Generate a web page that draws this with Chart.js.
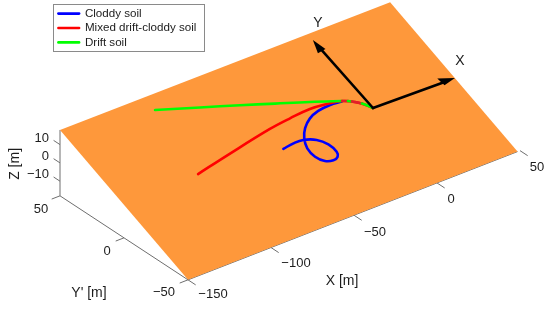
<!DOCTYPE html>
<html>
<head>
<meta charset="utf-8">
<title>Trajectories on the slope</title>
<script src="https://cdn.jsdelivr.net/npm/chart.js@4/dist/chart.umd.js"></script>
<style>
    html, body { margin: 0; padding: 0; background: #fff; }
    #wrap { width: 550px; height: 309px; }
</style>
</head>
<body>
<div id="wrap"><canvas id="chart" width="550" height="309"></canvas></div>
<script>
/* Values, in metres, slope frame (X along, Y' across) */
const cloddyX = [-56.3, -49.6, -43.9, -37.8, -34.2, -33.3, -34.8, -38.1, -42.2, -45.0, -45.3, -42.8, -38.5, -32.5, -25.9, -18.2, -11.7];
const cloddyY = [-3.0, -2.2, -2.4, -5.0, -9.5, -14.8, -17.5, -18.5, -17.2, -13.1, -7.4, -1.8, 3.1, 7.1, 9.2, 9.9, 9.3];

const mixedX = [-104.6, -83.6, -54.7, -41.5, -28.9, -19.3, -11.3, -5.8, -2.0, 0];
const mixedY = [1.0, 4.8, 9.6, 11.0, 11.8, 11.0, 9.5, 6.5, 2.9, 0];

const driftX = [-99.3, -78.0, -59.1, -42.6, -26.2, -11.3, -8.6, -7.0, -3.3, -2.0, 0];
const driftY = [41.5, 34.0, 27.3, 21.3, 15.3, 9.5, 8.4, 7.4, 4.4, 2.9, 0];
const driftRedSegments = [5, 7];   // where the red line shows through near the origin

const planeX = [-150, 48.5, 48.5, -150];
const planeY = [-50, -50, 49.5, 50];
const planeZ = [-18, -18, 18, 18];

const arrowXTip = [48.6, -1];
const arrowYTip = [-0.9, 45.8];

const xTicks = [-150, -100, -50, 0, 50];
const yTicks = [50, 0, -50];
const zTicks = [10, 0, -10];

const seriesNames = ['Cloddy soil', 'Mixed drift-cloddy soil', 'Drift soil'];

// Axes box and slope of the plane
const X_MIN = -150, Y_MIN = -50, Y_MAX = 50, Z_MIN = -18, Z_MAX = 18;
const SLOPE = 0.36;

// View of the 3D axes on the page
function project(x, y, z) {
    return {
        x: 373 + 1.66 * x - 1.28 * y,
        y: 108 - 0.646 * x - 0.84 * y - 1.83 * z
    };
}

const onSlope = (xs, ys) => xs.map((x, i) => project(x, ys[i], SLOPE * ys[i]));

// Disjoint short lines, broken up with NaN
function strokes(pairs) {
    const out = [];
    pairs.forEach(([a, b]) => out.push(project(...a), project(...b), { x: NaN, y: NaN }));
    return out;
}

const GREY = '#6e6e6e';
const RED = '#ff0000';
const GREEN = '#00ff00';
const BLUE = '#0000ff';
const ORANGE = '#fe983b';

const tickLines = strokes([
    ...xTicks.map(v => [[v, Y_MIN, Z_MIN], [v, Y_MIN - 6, Z_MIN]]),
    ...yTicks.map(v => [[X_MIN, v, Z_MIN], [X_MIN - 5, v, Z_MIN]]),
    ...zTicks.map(v => [[X_MIN, Y_MAX, v], [X_MIN, Y_MAX + 5, v]]),
    [[X_MIN, Y_MAX, Z_MIN], [X_MIN, Y_MAX, Z_MAX]],
    [[X_MIN, Y_MIN, Z_MIN], [X_MIN, Y_MAX, Z_MIN]],
    [[X_MIN, Y_MIN, Z_MIN], [planeX[1], Y_MIN, Z_MIN]]
]);

function lineSet(label, data, color, order, extra) {
    return Object.assign({
        label, data, order,
        showLine: true,
        borderColor: color,
        backgroundColor: color,
        borderWidth: 2.6,
        borderJoinStyle: 'round',
        borderCapStyle: 'round',
        tension: 0.4,
        pointRadius: 0,
        fill: false
    }, extra);
}

// Closed filled shape (plane, arrow heads)
function shapeSet(data, color, order) {
    return {
        data, order,
        showLine: true,
        borderColor: color,
        backgroundColor: color,
        borderWidth: 0,
        tension: 0,
        pointRadius: 0,
        fill: 'shape'
    };
}

function arrowHead(tip, baseA, baseB) {
    return onSlope([tip[0], baseA[0], baseB[0], tip[0]], [tip[1], baseA[1], baseB[1], tip[1]]);
}

function onSlopePlane() {
    const pts = planeX.map((x, i) => project(x, planeY[i], planeZ[i]));
    pts.push(pts[0]);
    return pts;
}

const datasets = [
    lineSet(seriesNames[0], onSlope(cloddyX, cloddyY), BLUE, 3),
    lineSet(seriesNames[1], onSlope(mixedX, mixedY), RED, 2),
    lineSet(seriesNames[2], onSlope(driftX, driftY), GREEN, 1, {
        segment: { borderColor: ctx => driftRedSegments.includes(ctx.p0DataIndex) ? '#e0202a' : undefined }
    }),
    lineSet('', onSlope([0, arrowXTip[0] - 5], [0, arrowXTip[1]]), '#000', 0, { tension: 0 }),
    lineSet('', onSlope([0, arrowYTip[0]], [0, arrowYTip[1] - 5]), '#000', 0, { tension: 0 }),
    shapeSet(arrowHead(arrowXTip, [40.4, 2.2], [41.1, -2.6]), '#000', 0),
    shapeSet(arrowHead(arrowYTip, [-3.8, 38.1], [1.3, 38.8]), '#000', 0),
    shapeSet(onSlopePlane(), ORANGE, 10),
    lineSet('', tickLines, GREY, 11, { borderWidth: 1, tension: 0, borderCapStyle: 'butt', spanGaps: false })
];

const minus = v => String(v).replace('-', '\u2212');

// Text next to the axes: anchor in the view plus a small nudge in pixels
const X_NUDGE = [[25, 15], [25, 15.5], [21, 17], [14, 16], [17, 17]];
const Y_NUDGE = [[-19, 14], [-17, 14], [-24, 13]];

const axisText = {
    id: 'axisText',
    afterDatasetsDraw(chart) {
        const { ctx, scales } = chart;
        const put = (text, p, dx, dy, font, align, angle) => {
            ctx.save();
            ctx.translate(scales.x.getPixelForValue(p.x) + dx, scales.y.getPixelForValue(p.y) + dy);
            if (angle) ctx.rotate(angle);
            ctx.font = font;
            ctx.fillStyle = '#1c1c1c';
            ctx.textAlign = align || 'center';
            ctx.textBaseline = 'middle';
            ctx.fillText(text, 0, 0);
            ctx.restore();
        };
        const tickFont = "13px 'Liberation Sans', sans-serif";
        const nameFont = "14px 'Liberation Sans', sans-serif";

        xTicks.forEach((v, i) => put(minus(v), project(v, Y_MIN, Z_MIN), X_NUDGE[i][0], X_NUDGE[i][1], tickFont));
        yTicks.forEach((v, i) => put(minus(v), project(X_MIN, v, Z_MIN), Y_NUDGE[i][0], Y_NUDGE[i][1], tickFont));
        zTicks.forEach(v => put(minus(v), project(X_MIN, Y_MAX, v), -11, -6.5, tickFont, 'right'));

        put('X [m]', project(-50, Y_MIN, Z_MIN), -12, 66, nameFont);
        put("Y' [m]", project(X_MIN, 0, Z_MIN), -35, 55, nameFont);
        put('Z [m]', project(X_MIN, Y_MAX, 0), -45, 1, nameFont, 'center', -Math.PI / 2);

        put('X', project(arrowXTip[0], arrowXTip[1], SLOPE * arrowXTip[1]), 5, -17, nameFont);
        put('Y', project(arrowYTip[0], arrowYTip[1], SLOPE * arrowYTip[1]), 5, -17, nameFont);
    }
};

// Move the legend up to the top left, over the empty part of the figure
const LEGEND_BOX = { left: 53, top: 4, right: 204, bottom: 51 };

const legendBox = {
    id: 'legendBox',
    afterLayout(chart) {
        const legend = chart.legend;
        legend.left = LEGEND_BOX.left + 2.6;
        legend.right = LEGEND_BOX.right;
        legend.top = LEGEND_BOX.top + 1;
        legend.bottom = LEGEND_BOX.bottom + 10;
    },
    beforeDatasetsDraw(chart) {
        const { ctx } = chart;
        ctx.save();
        ctx.strokeStyle = '#8a8a8a';
        ctx.lineWidth = 1;
        ctx.strokeRect(LEGEND_BOX.left + 0.5, LEGEND_BOX.top + 0.5,
            LEGEND_BOX.right - LEGEND_BOX.left, LEGEND_BOX.bottom - LEGEND_BOX.top);
        ctx.restore();
    }
};

new Chart(document.getElementById('chart'), {
    type: 'scatter',
    data: { datasets },
    options: {
        responsive: false,
        animation: false,
        events: [],
        layout: { padding: 0 },
        scales: {
            x: { display: false, min: 0, max: 550 },
            y: { display: false, min: 0, max: 309, reverse: true }
        },
        plugins: {
            tooltip: { enabled: false },
            title: { display: false },
            legend: {
                position: 'chartArea',
                align: 'start',
                labels: {
                    filter: item => seriesNames.includes(item.text),
                    sort: (a, b) => a.datasetIndex - b.datasetIndex,
                    font: { family: "'Liberation Sans', sans-serif", size: 11.6 },
                    color: '#1c1c1c',
                    boxWidth: 20.7,
                    boxHeight: 0.01,
                    padding: 2.8
                }
            }
        }
    },
    plugins: [axisText, legendBox]
});
</script>
</body>
</html>
